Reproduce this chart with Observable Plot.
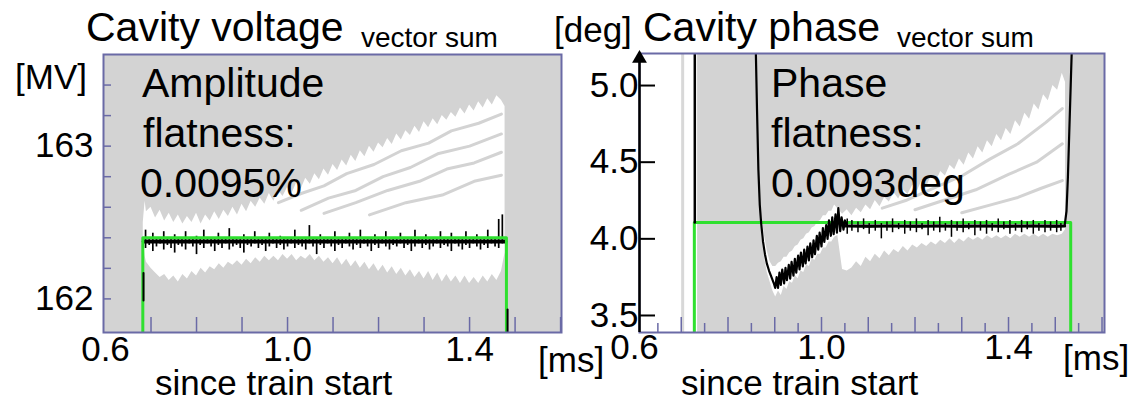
<!DOCTYPE html>
<html>
<head>
<meta charset="utf-8">
<script src="https://cdn.jsdelivr.net/npm/d3@7"></script>
<script src="https://cdn.jsdelivr.net/npm/@observablehq/plot@0.6"></script>
<style>
  html, body { margin: 0; padding: 0; background: #fff; }
  #wrap { position: relative; width: 1138px; height: 404px; overflow: hidden; background: #fff;
          font-family: "Liberation Sans", Arial, Helvetica, sans-serif; color: #000; }
  .pl { position: absolute; top: 0; }
  .t { position: absolute; white-space: nowrap; line-height: 1; }
</style>
</head>
<body>
<div id="wrap">
  <div class="pl" id="left" style="left:0px;width:570px;height:404px"></div>
  <div class="pl" id="right" style="left:561px;width:577px;height:404px"></div>
</div>
<script>
// ---------------- Left panel: cavity voltage (MV) vs time since train start (ms)
const ampXDomain = [0.5956, 1.602];
const ampYDomain = [161.78, 163.6];
const ampXTicks = [0.7, 0.8, 0.9, 1.0, 1.1, 1.2, 1.3, 1.4, 1.5, 1.6];
const ampYTicks = [162.0, 162.2, 162.4, 162.6, 162.8, 163.0, 163.2, 163.4];
const ampXLabels = [0.6, 1.0, 1.4];
const ampYLabels = [162, 163];

// setpoint (green)
const ampGreenT = [0.682, 0.682, 1.481, 1.481];
const ampGreenV = [161.6, 162.4, 162.4, 161.6];

// envelope of the overlaid pulses (white)
const ampWhiteT = [0.683, 0.687, 0.69, 0.70, 0.71, 0.72, 0.73, 0.74, 0.75, 0.76, 0.77, 0.78, 0.79, 0.80, 0.81, 0.82, 0.83, 0.84, 0.85, 0.86, 0.87, 0.88, 0.89, 0.90, 0.91, 0.92, 0.93, 0.94, 0.95, 0.96, 0.97, 0.98, 0.99, 1.00, 1.01, 1.02, 1.03, 1.04, 1.05, 1.06, 1.07, 1.08, 1.09, 1.10, 1.11, 1.12, 1.13, 1.14, 1.15, 1.16, 1.17, 1.18, 1.19, 1.20, 1.21, 1.22, 1.23, 1.24, 1.25, 1.26, 1.27, 1.28, 1.29, 1.30, 1.31, 1.32, 1.33, 1.34, 1.35, 1.36, 1.37, 1.38, 1.39, 1.40, 1.41, 1.42, 1.43, 1.44, 1.45, 1.46, 1.47, 1.478];
const ampWhiteHi = [162.50, 162.64, 162.57, 162.60, 162.53, 162.58, 162.51, 162.56, 162.50, 162.55, 162.49, 162.54, 162.50, 162.56, 162.49, 162.55, 162.51, 162.57, 162.52, 162.58, 162.54, 162.60, 162.55, 162.62, 162.57, 162.64, 162.60, 162.66, 162.62, 162.69, 162.64, 162.71, 162.67, 162.73, 162.69, 162.76, 162.72, 162.79, 162.75, 162.82, 162.78, 162.85, 162.81, 162.88, 162.84, 162.91, 162.87, 162.94, 162.90, 162.97, 162.93, 163.00, 162.96, 163.02, 162.99, 163.05, 163.01, 163.08, 163.04, 163.10, 163.07, 163.13, 163.09, 163.16, 163.12, 163.18, 163.14, 163.20, 163.17, 163.22, 163.19, 163.25, 163.21, 163.27, 163.23, 163.29, 163.25, 163.31, 163.27, 163.33, 163.30, 163.26];
const ampWhiteLo = [162.38, 162.28, 162.24, 162.20, 162.17, 162.14, 162.16, 162.12, 162.15, 162.11, 162.16, 162.13, 162.18, 162.15, 162.20, 162.17, 162.21, 162.19, 162.23, 162.20, 162.24, 162.22, 162.25, 162.22, 162.26, 162.23, 162.27, 162.24, 162.28, 162.25, 162.28, 162.25, 162.29, 162.26, 162.29, 162.25, 162.28, 162.26, 162.29, 162.25, 162.28, 162.24, 162.27, 162.23, 162.27, 162.22, 162.26, 162.21, 162.25, 162.20, 162.24, 162.19, 162.23, 162.18, 162.22, 162.17, 162.21, 162.16, 162.20, 162.15, 162.19, 162.14, 162.18, 162.13, 162.18, 162.12, 162.17, 162.11, 162.16, 162.11, 162.15, 162.10, 162.15, 162.10, 162.14, 162.10, 162.15, 162.11, 162.16, 162.12, 162.18, 162.30];

// gray gaps between the fanning pulses
const ampGapId = ["a","a","a","a","a","a","a","a","a","a", "b","b","b","b","b","b","b","b", "c","c","c","c","c","c","c", "d","d","d","d","d"];
const ampGapT  = [0.98, 1.03, 1.08, 1.13, 1.19, 1.25, 1.31, 1.36, 1.42, 1.47, 1.03, 1.09, 1.15, 1.21, 1.27, 1.33, 1.40, 1.47, 1.08, 1.15, 1.22, 1.29, 1.35, 1.41, 1.47, 1.18, 1.26, 1.34, 1.41, 1.47];
const ampGapV  = [162.63, 162.69, 162.74, 162.82, 162.88, 162.97, 163.02, 163.10, 163.15, 163.21, 162.58, 162.66, 162.71, 162.80, 162.86, 162.95, 163.00, 163.08, 162.56, 162.63, 162.71, 162.77, 162.85, 162.89, 162.96, 162.55, 162.63, 162.68, 162.77, 162.81];

// measured vector sum (black): flat level plus dense noise spikes
const ampBaseT = [0.684, 1.479];
const ampBaseV = [162.375, 162.375];
const ampSpikeT = [0.688, 0.696, 0.704, 0.712, 0.720, 0.728, 0.736, 0.744, 0.752, 0.760, 0.768, 0.776, 0.784, 0.792, 0.800, 0.808, 0.816, 0.824, 0.832, 0.840, 0.848, 0.856, 0.864, 0.872, 0.880, 0.888, 0.896, 0.904, 0.912, 0.920, 0.928, 0.936, 0.944, 0.952, 0.960, 0.968, 0.976, 0.984, 0.992, 1.000, 1.008, 1.016, 1.024, 1.032, 1.040, 1.048, 1.056, 1.064, 1.072, 1.080, 1.088, 1.096, 1.104, 1.112, 1.120, 1.128, 1.136, 1.144, 1.152, 1.160, 1.168, 1.176, 1.184, 1.192, 1.200, 1.208, 1.216, 1.224, 1.232, 1.240, 1.248, 1.256, 1.264, 1.272, 1.280, 1.288, 1.296, 1.304, 1.312, 1.320, 1.328, 1.336, 1.344, 1.352, 1.360, 1.368, 1.376, 1.384, 1.392, 1.400, 1.408, 1.416, 1.424, 1.432, 1.440, 1.448, 1.456, 1.464, 1.472];
const ampSpikeLo = [162.33, 162.35, 162.31, 162.34, 162.36, 162.32, 162.35, 162.33, 162.30, 162.35,
                    162.34, 162.32, 162.36, 162.34, 162.29, 162.35, 162.33, 162.36, 162.34, 162.31,
                    162.35, 162.33, 162.36, 162.32, 162.34, 162.35, 162.33, 162.30, 162.35, 162.34,
                    162.36, 162.33, 162.35, 162.31, 162.34, 162.36, 162.33, 162.35, 162.32, 162.34,
                    162.36, 162.33, 162.35, 162.34, 162.32, 162.36, 162.34, 162.29, 162.35, 162.33,
                    162.36, 162.34, 162.31, 162.35, 162.33, 162.36, 162.34, 162.32, 162.35, 162.33,
                    162.36, 162.34, 162.31, 162.35, 162.33, 162.36, 162.34, 162.32, 162.35, 162.34,
                    162.36, 162.33, 162.35, 162.31, 162.34, 162.36, 162.33, 162.35, 162.32, 162.34,
                    162.36, 162.33, 162.35, 162.34, 162.31, 162.36, 162.34, 162.32, 162.35, 162.33,
                    162.36, 162.34, 162.32, 162.35, 162.33, 162.36, 162.34, 162.33, 162.36];
const ampSpikeHi = [162.45, 162.39, 162.43, 162.39, 162.39, 162.44, 162.39, 162.39, 162.42, 162.39,
                    162.39, 162.44, 162.39, 162.39, 162.41, 162.39, 162.45, 162.39, 162.39, 162.39,
                    162.43, 162.39, 162.39, 162.46, 162.39, 162.39, 162.39, 162.42, 162.39, 162.39,
                    162.44, 162.39, 162.39, 162.39, 162.43, 162.39, 162.39, 162.41, 162.39, 162.39,
                    162.39, 162.45, 162.39, 162.39, 162.39, 162.48, 162.39, 162.39, 162.42, 162.39,
                    162.39, 162.39, 162.44, 162.39, 162.39, 162.39, 162.43, 162.39, 162.39, 162.45,
                    162.39, 162.39, 162.39, 162.42, 162.39, 162.39, 162.44, 162.39, 162.39, 162.39,
                    162.43, 162.39, 162.39, 162.39, 162.45, 162.39, 162.39, 162.42, 162.39, 162.39,
                    162.39, 162.44, 162.39, 162.39, 162.43, 162.39, 162.39, 162.39, 162.44, 162.39,
                    162.39, 162.42, 162.39, 162.39, 162.45, 162.39, 162.39, 162.52, 162.55];
const ampEdgeId = ["s", "s", "e", "e"];
const ampEdgeT  = [0.6835, 0.6835, 1.4835, 1.4835];
const ampEdgeV  = [161.99, 162.17, 161.78, 161.93];

// ---------------- Right panel: cavity phase (deg)
const phaseXDomain = [0.6107, 1.6053];
const phaseYDomain = [3.389, 5.209];
const phaseYTicks = [3.5, 4.0, 4.5, 5.0];
const phaseXMajor = [0.7, 0.8, 0.9, 1.0, 1.1, 1.2, 1.3, 1.4, 1.5, 1.6];
const phaseXMinor = [0.65, 0.75, 0.85, 0.95, 1.05, 1.15, 1.25, 1.35, 1.45, 1.55];
const phaseXLabels = [0.6, 1.0, 1.4];
const phaseGrayStart = [0.735];
const phaseDivider = [0.703];

const phaseGreenT = [0.728, 0.728, 1.533, 1.533];
const phaseGreenV = [3.3, 4.106, 4.106, 3.3];

const phasePreT = [0.729, 0.729];
const phasePreV = [5.3, 4.106];

const phaseBlackT = [0.859, 0.862, 0.865, 0.868, 0.871, 0.875, 0.879, 0.883, 0.888, 0.893, 0.898, 0.901, 0.904, 0.907, 0.910, 0.913, 0.916, 0.920, 0.923, 0.926, 0.930, 0.933, 0.936, 0.940, 0.943, 0.946, 0.950, 0.953, 0.956, 0.960, 0.963, 0.966, 0.970, 0.973, 0.976, 0.980, 0.983, 0.986, 0.990, 0.993, 0.996, 1.000, 1.003, 1.006, 1.010, 1.013, 1.016, 1.020, 1.023, 1.026, 1.030, 1.033, 1.036, 1.040, 1.043, 1.047, 1.050, 1.055, 1.10, 1.15, 1.20, 1.25, 1.30, 1.35, 1.40, 1.45, 1.50, 1.520, 1.524, 1.527, 1.530, 1.533, 1.536];
const phaseBlackV = [5.30, 4.85, 4.45, 4.22, 4.10, 3.98, 3.90, 3.84, 3.79, 3.75, 3.71, 3.68, 3.75, 3.68, 3.78, 3.70, 3.80, 3.71, 3.81, 3.73, 3.83, 3.74, 3.85, 3.76, 3.87, 3.78, 3.89, 3.80, 3.91, 3.82, 3.93, 3.84, 3.95, 3.86, 3.97, 3.88, 3.99, 3.90, 4.02, 3.93, 4.04, 3.95, 4.07, 3.98, 4.09, 4.00, 4.12, 4.02, 4.14, 4.03, 4.16, 4.04, 4.20, 4.05, 4.14, 4.06, 4.12, 4.085, 4.08, 4.085, 4.08, 4.085, 4.08, 4.085, 4.08, 4.085, 4.08, 4.085, 4.18, 4.40, 4.70, 5.00, 5.30];
const phaseBaseT = [1.05, 1.52];
const phaseBaseV = [4.083, 4.083];

const phaseSpikeT  = [1.055, 1.065, 1.078, 1.090, 1.102, 1.115, 1.128, 1.140, 1.152, 1.165, 1.178, 1.190, 1.203, 1.215, 1.228, 1.240, 1.253, 1.265, 1.278, 1.290, 1.303, 1.315, 1.328, 1.340, 1.353, 1.365, 1.378, 1.390, 1.403, 1.415, 1.428, 1.440, 1.453, 1.465, 1.478, 1.490, 1.503, 1.512];
const phaseSpikeLo = [4.03, 4.05, 4.04, 4.06, 4.03, 4.05, 4.00, 4.05, 4.04, 4.06, 4.03, 4.05, 4.04, 4.06, 4.02, 4.05, 4.04, 4.05, 4.01, 4.05, 4.04, 4.06, 4.02, 4.05, 4.03, 4.05, 4.04, 4.06, 4.03, 4.05, 4.04, 4.06, 4.03, 4.05, 4.04, 4.05, 4.04, 4.05];
const phaseSpikeHi = [4.13, 4.12, 4.11, 4.13, 4.10, 4.12, 4.10, 4.11, 4.13, 4.10, 4.12, 4.11, 4.13, 4.10, 4.12, 4.11, 4.14, 4.10, 4.12, 4.11, 4.13, 4.10, 4.12, 4.11, 4.12, 4.10, 4.13, 4.11, 4.12, 4.10, 4.12, 4.11, 4.12, 4.10, 4.12, 4.11, 4.12, 4.10];

// white envelope during the phase recovery
const phaseRecT  = [0.872, 0.878, 0.884, 0.890, 0.896, 0.902, 0.908, 0.914, 0.920, 0.926, 0.932, 0.938, 0.944, 0.950, 0.956, 0.962, 0.968, 0.974, 0.980, 0.986, 0.992, 0.998, 1.004, 1.010, 1.016, 1.022, 1.028, 1.034, 1.040];
const phaseRecLo = [4.02, 3.88, 3.78, 3.72, 3.66, 3.62, 3.66, 3.63, 3.69, 3.67, 3.72, 3.71, 3.76, 3.74, 3.79, 3.78, 3.83, 3.82, 3.87, 3.86, 3.90, 3.90, 3.94, 3.94, 3.98, 3.98, 4.01, 4.02, 4.04];
const phaseRecHi = [4.16, 4.02, 3.92, 3.85, 3.82, 3.82, 3.84, 3.85, 3.88, 3.88, 3.91, 3.92, 3.95, 3.96, 3.99, 4.00, 4.03, 4.04, 4.07, 4.08, 4.11, 4.12, 4.15, 4.15, 4.18, 4.18, 4.22, 4.20, 4.20];

// white envelope of the flat-top part (below and fanning above)
const phaseFanT  = [1.035, 1.045, 1.055, 1.065, 1.075, 1.085, 1.095, 1.105, 1.115, 1.125, 1.135, 1.145, 1.155, 1.165, 1.175, 1.185, 1.195, 1.205, 1.215, 1.225, 1.235, 1.245, 1.255, 1.265, 1.275, 1.285, 1.295, 1.305, 1.315, 1.325, 1.335, 1.345, 1.355, 1.365, 1.375, 1.385, 1.395, 1.405, 1.415, 1.425, 1.435, 1.445, 1.455, 1.465, 1.475, 1.485, 1.495, 1.505, 1.515, 1.522];
const phaseFanLo = [4.02, 3.80, 3.79, 3.81, 3.85, 3.82, 3.88, 3.85, 3.90, 3.87, 3.92, 3.89, 3.93, 3.91, 3.95, 3.92, 3.96, 3.94, 3.97, 3.95, 3.98, 3.96, 3.99, 3.97, 4.00, 3.97, 4.00, 3.98, 4.01, 3.99, 4.01, 3.99, 4.02, 4.00, 4.02, 4.00, 4.02, 4.00, 4.03, 4.01, 4.03, 4.01, 4.03, 4.01, 4.03, 4.01, 4.03, 4.02, 4.03, 4.06];
const phaseFanHi = [4.20, 4.16, 4.19, 4.15, 4.20, 4.17, 4.22, 4.19, 4.25, 4.21, 4.27, 4.24, 4.30, 4.26, 4.32, 4.29, 4.35, 4.31, 4.38, 4.34, 4.41, 4.37, 4.44, 4.41, 4.48, 4.45, 4.52, 4.48, 4.56, 4.52, 4.60, 4.56, 4.64, 4.60, 4.68, 4.64, 4.72, 4.68, 4.77, 4.73, 4.82, 4.78, 4.88, 4.84, 4.94, 4.90, 5.00, 4.97, 5.08, 5.02];
const phaseGapId = ["a","a","a","a","a","a","a","a", "b","b","b","b","b","b", "c","c","c","c","c"];
const phaseGapT  = [1.13, 1.18, 1.24, 1.30, 1.36, 1.42, 1.48, 1.515, 1.20, 1.27, 1.33, 1.40, 1.46, 1.515, 1.30, 1.36, 1.42, 1.47, 1.515];
const phaseGapV  = [4.20, 4.25, 4.33, 4.41, 4.52, 4.62, 4.76, 4.85, 4.19, 4.26, 4.32, 4.42, 4.50, 4.62, 4.17, 4.22, 4.27, 4.33, 4.38];

// ---------------- styles
const FONT = '"Liberation Sans", Arial, Helvetica, sans-serif';
const GRAY = "#d3d3d3";
const FRAME = "#6a6aa6";
const GREEN = "#2fe02f";

const zip = (ks, arrs) => arrs[0].map((_, i) => Object.fromEntries(ks.map((k, j) => [k, arrs[j][i]])));

const ampWhite = zip(["t", "lo", "hi"], [ampWhiteT, ampWhiteLo, ampWhiteHi]);
const ampGaps = zip(["g", "t", "v"], [ampGapId, ampGapT, ampGapV]);
const ampSpikes = zip(["t", "lo", "hi"], [ampSpikeT, ampSpikeLo, ampSpikeHi]);
const ampBase = zip(["t", "v"], [ampBaseT, ampBaseV]);
const ampGreen = zip(["t", "v"], [ampGreenT, ampGreenV]);
const ampEdges = zip(["g", "t", "v"], [ampEdgeId, ampEdgeT, ampEdgeV]);

const W1 = 570, H1 = 404, ML1 = 103, MR1 = 9, MT1 = 54, MB1 = 72;
const FW1 = W1 - ML1 - MR1, FH1 = H1 - MT1 - MB1;

const left = Plot.plot({
  width: W1, height: H1,
  marginLeft: ML1, marginRight: MR1, marginTop: MT1, marginBottom: MB1,
  x: {domain: ampXDomain, axis: null},
  y: {domain: ampYDomain, axis: null},
  style: {background: "transparent", fontFamily: FONT, overflow: "visible"},
  marks: [
    Plot.frame({fill: GRAY, stroke: null}),
    Plot.areaY(ampWhite, {x: "t", y1: "lo", y2: "hi", fill: "white", clip: true}),
    Plot.line(ampGaps, {x: "t", y: "v", z: "g", stroke: GRAY, strokeWidth: 3, clip: true}),
    Plot.ruleX(ampSpikes, {x: "t", y1: "lo", y2: "hi", stroke: "black", strokeWidth: 1.7, clip: true}),
    Plot.line(ampBase, {x: "t", y: "v", stroke: "black", strokeWidth: 4, clip: true}),
    Plot.line(ampGreen, {x: "t", y: "v", stroke: GREEN, strokeWidth: 3, clip: true}),
    Plot.line(ampEdges, {x: "t", y: "v", z: "g", stroke: "black", strokeWidth: 2, clip: true}),
    Plot.ruleX(ampXTicks, {stroke: FRAME, strokeWidth: 1.5, insetTop: FH1 - 15}),
    Plot.ruleY(ampYTicks, {stroke: FRAME, strokeWidth: 1.5, insetRight: FW1 - 8}),
    Plot.frame({stroke: FRAME, strokeWidth: 2}),
    Plot.text(ampXLabels, {x: d => d, text: d => d.toFixed(1), frameAnchor: "bottom", dy: 28, fontSize: 35, fill: "black"}),
    Plot.text(ampYLabels, {y: d => d, text: d => String(d), frameAnchor: "left", textAnchor: "end", dx: -10, fontSize: 35, fill: "black"})
  ]
});
document.getElementById("left").appendChild(left);

const phaseGreen = zip(["t", "v"], [phaseGreenT, phaseGreenV]);
const phasePre = zip(["t", "v"], [phasePreT, phasePreV]);
const phaseBlack = zip(["t", "v"], [phaseBlackT, phaseBlackV]);
const phaseBase = zip(["t", "v"], [phaseBaseT, phaseBaseV]);
const phaseSpikes = zip(["t", "lo", "hi"], [phaseSpikeT, phaseSpikeLo, phaseSpikeHi]);
const phaseRec = zip(["t", "lo", "hi"], [phaseRecT, phaseRecLo, phaseRecHi]);
const phaseFan = zip(["t", "lo", "hi"], [phaseFanT, phaseFanLo, phaseFanHi]);
const phaseGaps = zip(["g", "t", "v"], [phaseGapId, phaseGapT, phaseGapV]);

const W2 = 577, H2 = 404, ML2 = 78, MR2 = 34, MT2 = 53, MB2 = 72;
const FW2 = W2 - ML2 - MR2, FH2 = H2 - MT2 - MB2;

const right = Plot.plot({
  width: W2, height: H2,
  marginLeft: ML2, marginRight: MR2, marginTop: MT2, marginBottom: MB2,
  x: {domain: phaseXDomain, axis: null},
  y: {domain: phaseYDomain, axis: null},
  style: {background: "transparent", fontFamily: FONT, overflow: "visible"},
  marks: [
    Plot.rect(phaseGrayStart, {x1: d => d, x2: phaseXDomain[1], y1: phaseYDomain[0], y2: phaseYDomain[1], fill: GRAY}),
    Plot.ruleX(phaseDivider, {stroke: "#d8d8d8", strokeWidth: 3}),
    Plot.areaY(phaseFan, {x: "t", y1: "lo", y2: "hi", fill: "white", clip: true}),
    Plot.line(phaseGaps, {x: "t", y: "v", z: "g", stroke: GRAY, strokeWidth: 3, clip: true}),
    Plot.areaY(phaseRec, {x: "t", y1: "lo", y2: "hi", fill: "white", clip: true}),
    Plot.line(phaseGreen, {x: "t", y: "v", stroke: GREEN, strokeWidth: 3, clip: true}),
    Plot.line(phasePre, {x: "t", y: "v", stroke: "black", strokeWidth: 2.5, clip: true}),
    Plot.ruleX(phaseSpikes, {x: "t", y1: "lo", y2: "hi", stroke: "black", strokeWidth: 1.5, clip: true}),
    Plot.line(phaseBase, {x: "t", y: "v", stroke: "black", strokeWidth: 3, clip: true}),
    Plot.line(phaseBlack, {x: "t", y: "v", stroke: "black", strokeWidth: 2.2, clip: true}),
    Plot.ruleX(phaseXMajor, {stroke: FRAME, strokeWidth: 1.5, insetTop: FH2 - 15}),
    Plot.ruleX(phaseXMinor, {stroke: FRAME, strokeWidth: 1.5, insetTop: FH2 - 9}),
    Plot.frame({stroke: FRAME, strokeWidth: 2}),
    Plot.ruleX([phaseXDomain[0]], {stroke: "black", strokeWidth: 2.5, insetTop: 8}),
    Plot.dot([phaseXDomain[0]], {x: d => d, y: phaseYDomain[1], symbol: "triangle", r: 5.5, fill: "black", stroke: null, dy: 5}),
    Plot.ruleY(phaseYTicks, {stroke: "black", strokeWidth: 2, insetRight: FW2 - 16}),
    Plot.text(phaseYTicks, {y: d => d, text: d => d.toFixed(1), frameAnchor: "left", textAnchor: "end", dx: -1, dy: 0, fontSize: 35, fill: "black"}),
    Plot.text(phaseXLabels, {filter: d => d < 0.7, x: d => d, text: d => d.toFixed(1), frameAnchor: "bottom", dy: 26, fontSize: 35, fill: "black"}),
    Plot.text(phaseXLabels, {filter: d => d > 0.7, x: d => d, text: d => d.toFixed(1), frameAnchor: "bottom", dy: 26, fontSize: 35, fill: "black"})
  ]
});
document.getElementById("right").appendChild(right);

// ---------------- text annotations (real text, placed by baseline)
const labels = [
  {text: "Cavity voltage", x: 86, base: 42, size: 41},
  {text: "vector sum", x: 361, base: 48, size: 28},
  {text: "[MV]", x: 15, base: 89, size: 35},
  {text: "Amplitude", x: 142, base: 98, size: 41},
  {text: "flatness:", x: 143, base: 148, size: 41},
  {text: "0.0095%", x: 140, base: 198, size: 41},
  {text: "[ms]", x: 538, base: 372, size: 35},
  {text: "since train start", x: 155, base: 395, size: 35},
  {text: "[deg]", x: 554, base: 42, size: 35},
  {text: "Cavity phase", x: 643, base: 42, size: 41},
  {text: "vector sum", x: 897, base: 48, size: 28},
  {text: "Phase", x: 771, base: 98, size: 41},
  {text: "flatness:", x: 771, base: 148, size: 41},
  {text: "0.0093deg", x: 771, base: 198, size: 41},
  {text: "[ms]", x: 1063, base: 370, size: 35},
  {text: "since train start", x: 681, base: 395, size: 35}
];
const wrap = document.getElementById("wrap");
for (const l of labels) {
  const d = document.createElement("div");
  d.className = "t";
  d.textContent = l.text;
  d.style.left = l.x + "px";
  d.style.top = (l.base - 0.8465 * l.size) + "px";
  d.style.fontSize = l.size + "px";
  wrap.appendChild(d);
}
</script>
</body>
</html>
